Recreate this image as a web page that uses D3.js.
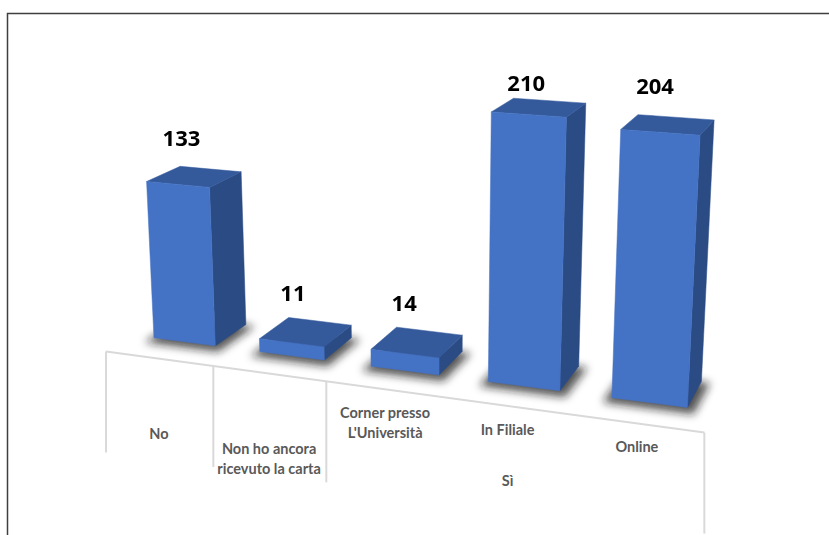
<!DOCTYPE html>
<html>
<head>
<meta charset="utf-8">
<script src="https://cdn.jsdelivr.net/npm/d3@7"></script>
<style>
  body { margin: 0; background: #ffffff; }
  svg { display: block; }
</style>
</head>
<body>
<svg id="chart" width="829" height="535"></svg>
<script>
// ---------------- data ----------------
const categories = ["No", "Non ho ancora ricevuto la carta", "Corner presso L'Università", "In Filiale", "Online"];
const values = [133, 11, 14, 210, 204];
const subLabels = ["", "", "Corner presso|L'Università", "In Filiale", "Online"];
const groupLabels = ["No", "Non ho ancora|ricevuto la carta", "Sì"];
const groupStart = [0, 1, 2];
const groupEnd = [0, 1, 4];

// ---------------- 3D camera (Excel-like rotation X 15°, Y 20°, perspective) ----------------
const cam = { yaw: 20 * Math.PI / 180, pitch: 15 * Math.PI / 180, F: 1573, R: 1573, cx: 425, cy: 210 };
function project(p) {
  const [X, Y, Z] = p;
  const ct = Math.cos(cam.yaw), st = Math.sin(cam.yaw);
  const cp = Math.cos(cam.pitch), sp = Math.sin(cam.pitch);
  const x1 = X * ct + Z * st, z1 = -X * st + Z * ct;
  const y2 = Y * cp + z1 * sp, z2 = -Y * sp + z1 * cp;
  const d = cam.R + z2;
  return [cam.cx + cam.F * x1 / d, cam.cy - cam.F * y2 / d];
}

// world layout
const floorY = -150, zFront = -58.5, barDepth = 71, zAxis = -112;
const x = d3.scaleBand().domain(d3.range(categories.length)).range([-307, 307])
  .paddingInner(0.414).paddingOuter(0.207);
const h = d3.scaleLinear().domain([0, 210]).range([0, 267]);

const colors = { front: "#4472c4", top: "#345a9c", side: "#2b4b84" };

const svg = d3.select("#chart");
const defs = svg.append("defs");
defs.append("filter").attr("id", "shadowBlur")
  .attr("x", "-50%").attr("y", "-50%").attr("width", "200%").attr("height", "200%")
  .append("feGaussianBlur").attr("stdDeviation", 4);

// frame (chart border partially visible)
svg.append("path").attr("d", "M7.5,540 V13.5 H835")
  .attr("fill", "none").attr("stroke", "#3f3f3f").attr("stroke-width", 1.5);

const line = d3.line();
const gap = (x.step() - x.bandwidth()) / 2;
const boundary = i => x(i) - gap;                  // left boundary of category i
const boundaryEnd = i => x(i) + x.bandwidth() + gap; // right boundary

// ---------------- category axis (multi-level) ----------------
const axisG = svg.append("g");
const a0 = project([boundary(0), floorY, zAxis]);
const a1 = project([boundaryEnd(categories.length - 1), floorY, zAxis]);
axisG.append("path").attr("d", line([a0, a1]))
  .attr("stroke", "#d9d9d9").attr("stroke-width", 2).attr("fill", "none");

const tickLen = 101;
const tickXs = groupStart.map(boundary).concat([boundaryEnd(categories.length - 1)]);
tickXs.forEach(tx => {
  const p = project([tx, floorY, zAxis]);
  axisG.append("path").attr("d", line([p, [p[0], p[1] + tickLen]]))
    .attr("stroke", "#d9d9d9").attr("stroke-width", 2).attr("fill", "none");
});

function multiline(g, text, px, py, lh) {
  const t = g.append("text").attr("x", px).attr("y", py)
    .attr("text-anchor", "middle")
    .attr("font-family", "Lato, 'Open Sans', sans-serif")
    .attr("font-weight", 700).attr("font-size", 14.5).attr("fill", "#595959");
  text.split("|").forEach((s, k) => {
    t.append("tspan").attr("x", px).attr("dy", k === 0 ? 0 : lh).text(s);
  });
}

subLabels.forEach((s, i) => {
  if (!s) return;
  const p = project([x(i) + x.bandwidth() / 2, floorY, zAxis]);
  multiline(axisG, s, p[0], p[1] + 29, 20);
});
groupLabels.forEach((s, j) => {
  const cxw = (boundary(groupStart[j]) + boundaryEnd(groupEnd[j])) / 2;
  const p = project([cxw, floorY, zAxis]);
  multiline(axisG, s, p[0], p[1] + 80, 20);
});

// ---------------- bars ----------------
const bars = values.map((v, i) => {
  const x0 = x(i), x1 = x(i) + x.bandwidth();
  const y0 = floorY, yt = floorY + h(v);
  const z0 = zFront, z1 = zFront + barDepth;
  return { i, v, x0, x1, y0, yt, z0, z1 };
});

const shadowG = svg.append("g").attr("filter", "url(#shadowBlur)");
bars.forEach(b => {
  const e = 7;
  const pts = [[b.x0 - e, b.y0, b.z0 - e], [b.x1 + e, b.y0, b.z0 - e],
               [b.x1 + e, b.y0, b.z1 + e], [b.x0 - e, b.y0, b.z1 + e]].map(project)
               .map(p => [p[0], p[1] + 3]);
  shadowG.append("path").attr("d", line(pts) + "Z").attr("fill", "#1a1a1a").attr("opacity", 0.75);
});

const barG = svg.append("g");
bars.forEach(b => {
  const P = project;
  const fbl = P([b.x0, b.y0, b.z0]), fbr = P([b.x1, b.y0, b.z0]);
  const ftl = P([b.x0, b.yt, b.z0]), ftr = P([b.x1, b.yt, b.z0]);
  const bbr = P([b.x1, b.y0, b.z1]), btl = P([b.x0, b.yt, b.z1]), btr = P([b.x1, b.yt, b.z1]);
  const g = barG.append("g");
  g.append("path").attr("d", line([fbr, bbr, btr, ftr]) + "Z").attr("fill", colors.side)
    .attr("stroke", colors.side).attr("stroke-width", 0.5);
  g.append("path").attr("d", line([ftl, ftr, btr, btl]) + "Z").attr("fill", colors.top)
    .attr("stroke", colors.top).attr("stroke-width", 0.5);
  g.append("path").attr("d", line([fbl, fbr, ftr, ftl]) + "Z").attr("fill", colors.front)
    .attr("stroke", colors.front).attr("stroke-width", 0.5);
});

// ---------------- value labels ----------------
const labelMinBaseline = 91;
bars.forEach(b => {
  const p = project([(b.x0 + b.x1) / 2, b.yt, (b.z0 + b.z1) / 2]);
  svg.append("text")
    .attr("x", p[0] - 13).attr("y", Math.max(p[1] - 31, labelMinBaseline))
    .attr("text-anchor", "middle")
    .attr("font-family", "'Open Sans', Lato, sans-serif")
    .attr("font-weight", 700).attr("font-size", 22).attr("fill", "#000000")
    .text(b.v);
});
</script>
</body>
</html>
